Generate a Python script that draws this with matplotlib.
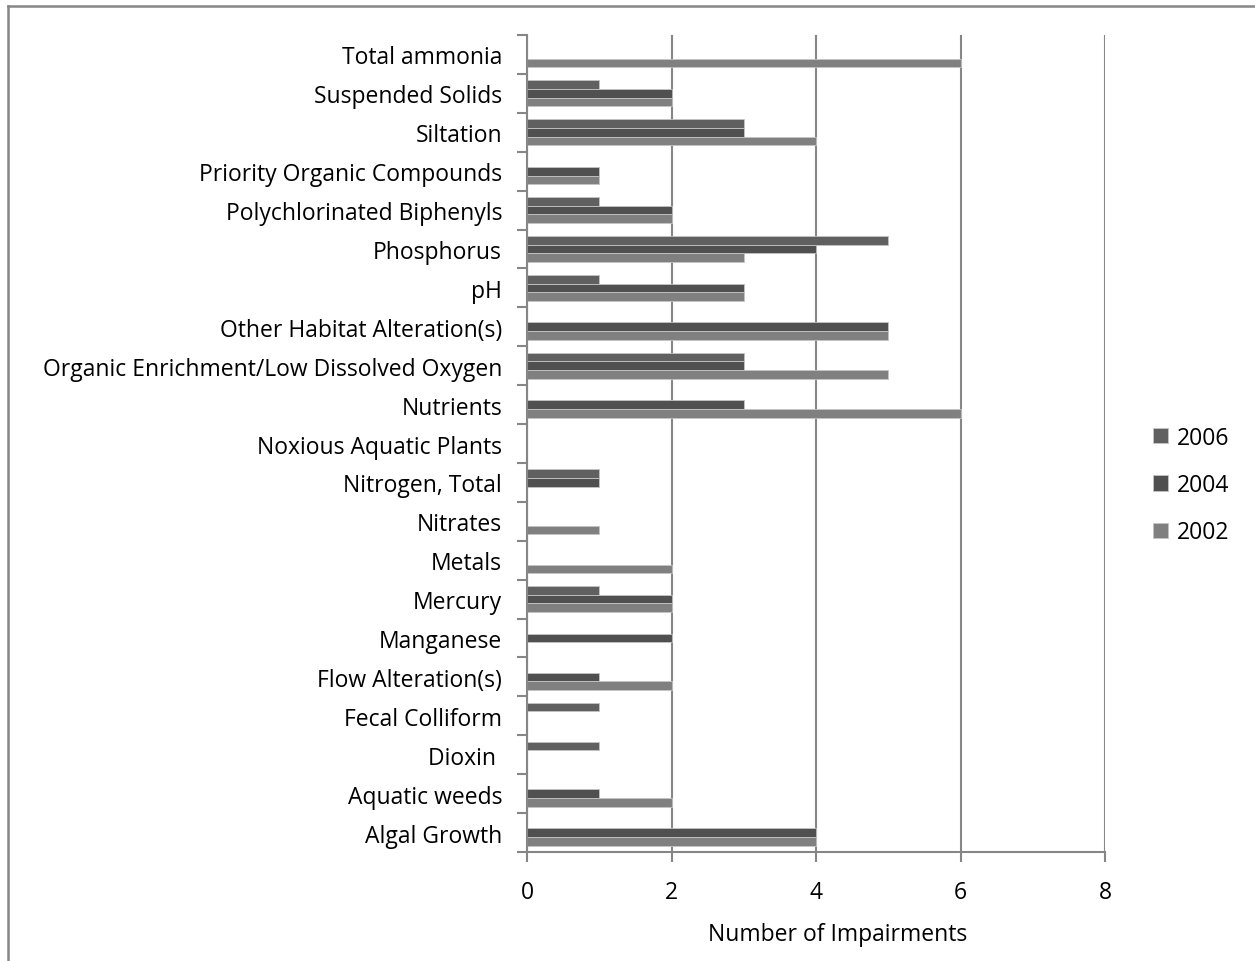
import matplotlib
matplotlib.use("Agg")
import matplotlib.pyplot as plt
from matplotlib.lines import Line2D
import numpy as np

plt.rcParams['font.family'] = ['Open Sans', 'DejaVu Sans']

# Categories listed bottom to top
categories = [
    "Algal Growth", "Aquatic weeds", "Dioxin ", "Fecal Colliform",
    "Flow Alteration(s)", "Manganese", "Mercury", "Metals", "Nitrates",
    "Nitrogen, Total", "Noxious Aquatic Plants", "Nutrients",
    "Organic Enrichment/Low Dissolved Oxygen", "Other Habitat Alteration(s)",
    "pH", "Phosphorus", "Polychlorinated Biphenyls",
    "Priority Organic Compounds", "Siltation", "Suspended Solids",
    "Total ammonia",
]
years = ["2006", "2004", "2002"]
values_2006 = [0, 0, 1, 1, 0, 0, 1, 0, 0, 1, 0, 0, 3, 0, 1, 5, 1, 0, 3, 1, 0]
values_2004 = [4, 1, 0, 0, 1, 2, 2, 0, 0, 1, 0, 3, 3, 5, 3, 4, 2, 1, 3, 2, 0]
values_2002 = [4, 2, 0, 0, 2, 0, 2, 2, 1, 0, 0, 6, 5, 5, 3, 3, 2, 1, 4, 2, 6]
x_ticks = [0, 2, 4, 6, 8]

series = [values_2006, values_2004, values_2002]
colors = ["#606060", "#505050", "#808080"]
offsets = [0.223, 0.0, -0.223]
bar_h = 0.223
grid_c = "#868686"
fs = 16.5

W, H = 1255, 962
fig = plt.figure(figsize=(W / 100, H / 100), dpi=100)
ax = fig.add_axes([527 / W, 1 - 853 / H, (1105 - 527) / W, (853 - 36) / H])

y = np.arange(len(categories))
handles = []
for vals, c, off, lab in zip(series, colors, offsets, years):
    b = ax.barh(y + off, vals, height=bar_h, color=c, edgecolor="#c4c4c4",
                linewidth=0.6, label=lab, zorder=2)
    handles.append(b)

ax.set_xlim(0, 8)
ax.set_ylim(-0.5, len(categories) - 0.5)
ax.set_xticks(x_ticks)
ax.set_xticklabels([str(t) for t in x_ticks], fontsize=fs)
ax.set_yticks(y)
ax.set_yticklabels(categories, fontsize=fs)
ax.set_yticks(np.arange(len(categories) + 1) - 0.5, minor=True)
ax.tick_params(axis="y", which="major", length=0, pad=18)
ax.tick_params(axis="y", which="minor", length=7, width=1.5, color=grid_c)
ax.tick_params(axis="x", which="major", length=7, width=1.5, color=grid_c, pad=13)

for s in ["top", "right"]:
    ax.spines[s].set_visible(False)
for s in ["left", "bottom"]:
    ax.spines[s].set_color(grid_c)
    ax.spines[s].set_linewidth(1.5)

ax.set_axisbelow(True)
ax.xaxis.grid(True, color=grid_c, linewidth=1.5)
ax.set_xlabel("Number of Impairments", fontsize=fs, labelpad=16)
ax.xaxis.set_label_coords((838 - 527) / (1105 - 527), -0.086)

fig.legend(handles=handles, labels=years, loc="center left",
           bbox_to_anchor=(1144 / W, 1 - 486 / H), frameon=False,
           fontsize=fs, handlelength=0.65, handleheight=0.65,
           handletextpad=0.4, labelspacing=1.02, borderaxespad=0)

# Chart frame (left and top edges)
fig.add_artist(Line2D([8 / W, 8 / W], [0, 1 - 7 / H], color=grid_c,
                      linewidth=1.8, transform=fig.transFigure))
fig.add_artist(Line2D([8 / W, 1], [1 - 7 / H, 1 - 7 / H], color=grid_c,
                      linewidth=1.8, transform=fig.transFigure))

fig.savefig("out.png", dpi=100)
